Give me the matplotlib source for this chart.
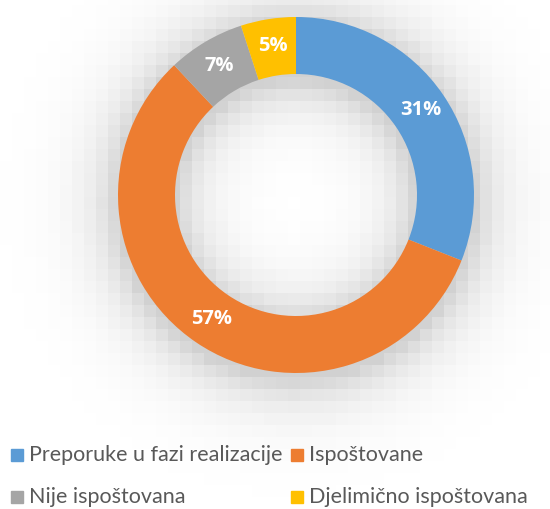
import numpy as np
import matplotlib.pyplot as plt

# datos
categorias = ['Preporuke u fazi realizacije', 'Ispoštovane',
              'Nije ispoštovana', 'Djelimično ispoštovana']
valores = [31, 57, 7, 5]
colores = ['#5B9BD5', '#ED7D31', '#A5A5A5', '#FFC000']

W, H = 550, 509
cx, cy = 296, H - 195
R = 178
ancho = 57

fig = plt.figure(figsize=(W / 100, H / 100), dpi=100)
ax = fig.add_axes([0, 0, 1, 1])

# sombra difusa pixelada alrededor del anillo
bloque = 12
nx, ny = W // bloque + 1, H // bloque + 1
xs = (np.arange(nx) + 0.5) * bloque
ys = (np.arange(ny) + 0.5) * bloque
X, Y = np.meshgrid(xs, ys)
dist = np.hypot(X - cx, Y - (cy - 6))
d_fuera = np.clip(dist - R, 0, None)
d_dentro = np.clip((R - ancho) - dist, 0, None)
d = np.maximum(d_fuera, d_dentro)
sombra = 0.18 * np.exp(-d / 30.0)
img = 1 - sombra
ax.imshow(img, cmap='gray', vmin=0, vmax=1, interpolation='nearest',
          extent=(0, nx * bloque, 0, ny * bloque), origin='lower', zorder=0)

wedges, texts, autotexts = ax.pie(
    valores, colors=colores, startangle=90, counterclock=False,
    radius=R, center=(cx, cy), autopct='%d%%', pctdistance=0.845,
    wedgeprops=dict(width=ancho, linewidth=0), frame=True,
    textprops=dict(color='white', fontsize=14.5, fontweight='bold',
                   family='Open Sans'))
for w in wedges:
    w.set_zorder(2)
for t in autotexts:
    t.set_zorder(3)

ax.set_xlim(0, W)
ax.set_ylim(0, H)
ax.set_aspect('equal')
ax.axis('off')

# leyenda manual en dos filas
filas = [(455, [(11, 0), (291, 1)]), (497, [(11, 2), (291, 3)])]
for yy, items in filas:
    for xx, i in items:
        ax.add_patch(plt.Rectangle((xx, H - yy - 6), 12, 12,
                                   color=colores[i], zorder=3))
        ax.text(xx + 18, H - yy, categorias[i], fontsize=15.5,
                color='#595959', va='center', ha='left', family='Lato')

fig.savefig('out.png', dpi=100)
